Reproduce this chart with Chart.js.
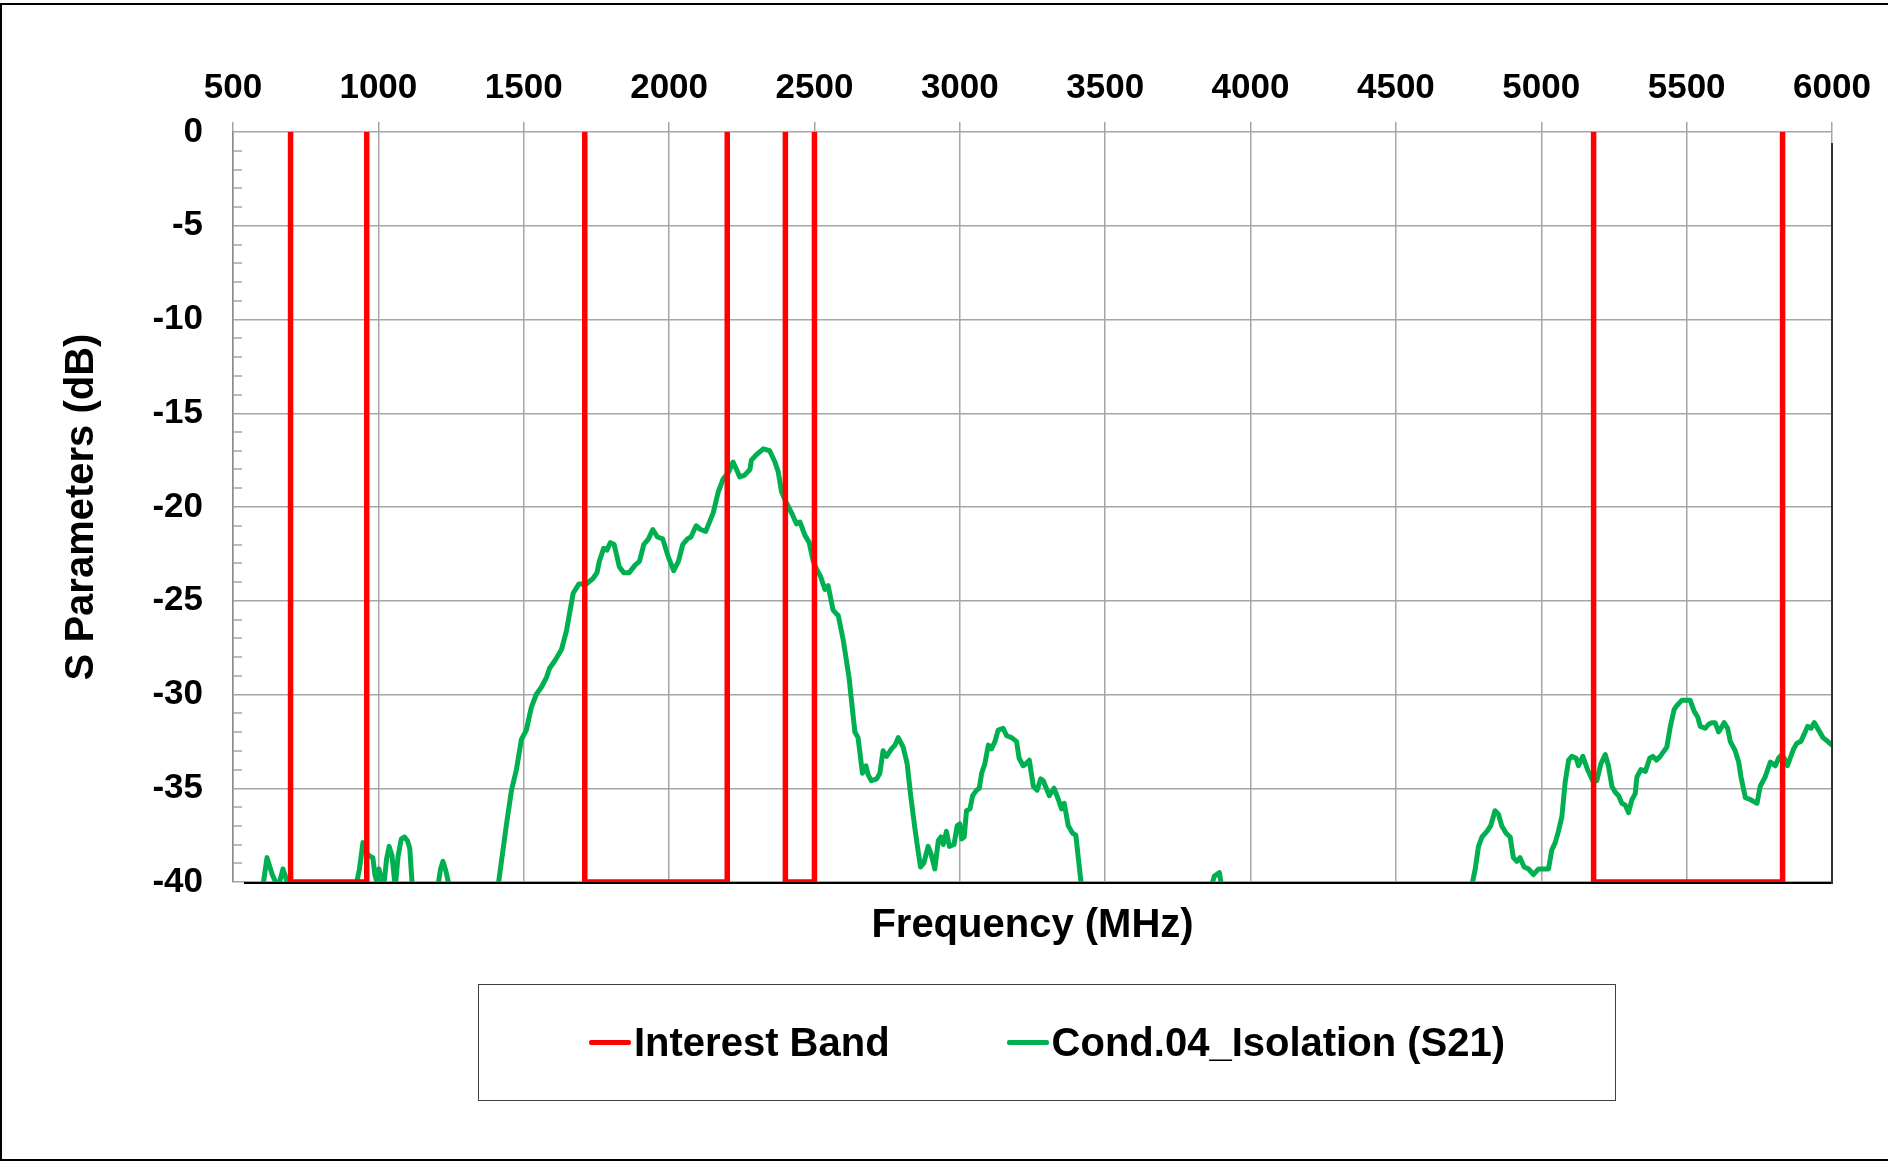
<!DOCTYPE html>
<html>
<head>
<meta charset="utf-8">
<title>Cond.04 Isolation (S21)</title>
<script src="https://cdn.jsdelivr.net/npm/chart.js@4.4.1/dist/chart.umd.min.js"></script>
<style>
  html, body { margin: 0; padding: 0; background: #fff; }
  #page { position: relative; width: 1888px; height: 1162px; overflow: hidden; }
  #frame {
    position: absolute; left: 0; top: 3px; width: 1888px; height: 1158px;
    box-sizing: border-box; border: 2px solid #000; border-right: none;
  }
  #chartWrap { position: absolute; left: 0; top: 0; width: 1888px; height: 1162px; }
  #legend {
    position: absolute; left: 478px; top: 984px; width: 1138px; height: 117px;
    box-sizing: border-box; border: 1px solid #404040;
    display: flex; align-items: center; justify-content: center; gap: 117px;
    font: bold 40px "Liberation Sans", Arial, sans-serif; color: #000;
  }
  .item { display: flex; align-items: center; white-space: nowrap; }
  .swatch { width: 42px; height: 5px; border-radius: 2px; margin-right: 3px; }
</style>
</head>
<body>
<div id="page">
  <div id="frame"></div>
  <div id="chartWrap"><canvas id="sparams"></canvas></div>
  <div id="legend"></div>
</div>
<script>
// axis ticks
const freqTicks = [500, 1000, 1500, 2000, 2500, 3000, 3500, 4000, 4500, 5000, 5500, 6000];
const dbTicks = [0, -5, -10, -15, -20, -25, -30, -35, -40];

// interest bands (MHz), pairs of low / high edge
const bandEdges = [698, 960, 1710, 2200, 2400, 2500, 5180, 5830];
const bandFloor = -40;
const bandCeil = 10;   // outside the bands the trace sits above the plot

const s21Freq = [
  500, 560, 603, 617, 635, 655, 672, 690, 710,
  800, 905, 922, 935, 947, 958, 968, 981, 988, 993, 1002, 1010, 1018, 1028, 1037, 1047, 1058,
  1068, 1079, 1090, 1100, 1108, 1117, 1130,
  1180, 1205, 1214, 1222, 1232, 1245, 1260,
  1380, 1412, 1440, 1458, 1475, 1492, 1509, 1526, 1543, 1561, 1578, 1589, 1607, 1630, 1647,
  1670, 1690, 1716, 1739, 1752, 1760, 1775, 1786, 1798, 1811, 1829, 1844, 1863, 1883, 1898,
  1913, 1929, 1944, 1960, 1978, 1998, 2016, 2032, 2047, 2063, 2075, 2093, 2108, 2126, 2152,
  2169, 2186, 2203, 2220, 2232, 2243, 2260, 2278, 2283, 2301, 2324, 2346, 2364, 2375, 2387,
  2404, 2424, 2438, 2450, 2467, 2482, 2496, 2507, 2521, 2536, 2547, 2564, 2582, 2599, 2619,
  2639, 2650, 2658, 2665, 2677, 2685, 2696, 2714, 2725, 2736, 2748, 2765, 2777, 2788, 2805,
  2819, 2831, 2846, 2857, 2865, 2876, 2891, 2901, 2914, 2926, 2935, 2943, 2954, 2964, 2980,
  2991, 3000, 3006, 3015, 3023, 3035, 3044, 3058, 3067, 3075, 3086, 3098, 3109, 3121, 3132,
  3149, 3161, 3178, 3195, 3204, 3218, 3227, 3239, 3253, 3266, 3278, 3287, 3308, 3324, 3339,
  3350, 3359, 3373, 3388, 3399, 3411, 3419, 3430,
  3850, 3866, 3875, 3893, 3901, 3915,
  4740, 4761, 4773, 4784, 4796, 4813, 4826, 4841, 4853, 4864, 4879, 4893, 4904, 4916, 4927,
  4941, 4956, 4973, 4991, 5008, 5025, 5036, 5048, 5059, 5071, 5082, 5094, 5105, 5120, 5128,
  5143, 5159, 5177, 5191, 5205, 5220, 5231, 5243, 5254, 5266, 5277, 5289, 5300, 5312, 5323,
  5329, 5343, 5358, 5373, 5384, 5396, 5409, 5432, 5444, 5457, 5466, 5484, 5501, 5512, 5526,
  5538, 5547, 5564, 5575, 5587, 5598, 5610, 5618, 5629, 5641, 5650, 5667, 5679, 5687, 5702,
  5719, 5730, 5742, 5753, 5770, 5788, 5805, 5816, 5828, 5839, 5847, 5856, 5868, 5879, 5893,
  5905, 5916, 5928, 5939, 5954, 5969, 5985, 6000
];
const s21Db = [
  -44, -42, -40.2, -38.7, -39.6, -40.3, -39.3, -40.2, -42,
  -43, -42, -40.3, -39.3, -37.9, -38.4, -38.6, -38.7, -39.6, -39.9, -39.3, -39.9, -40.3, -38.8, -38.1, -38.6, -40.3,
  -38.6, -37.7, -37.6, -37.8, -38.2, -40.3, -42,
  -42, -40.2, -39.3, -38.9, -39.4, -40.3, -42,
  -42, -40.2, -37.0, -35.1, -34.0, -32.4, -31.9, -30.7, -30.0, -29.6, -29.1, -28.6, -28.2, -27.6, -26.6,
  -24.6, -24.1, -24.1, -23.8, -23.5, -22.9, -22.2, -22.3, -21.9, -22.0, -23.2, -23.5, -23.5, -23.1, -22.9,
  -22.0, -21.7, -21.2, -21.6, -21.7, -22.7, -23.4, -22.9, -22.0, -21.7, -21.6, -21.0, -21.2, -21.3, -20.3,
  -19.2, -18.5, -18.2, -17.6, -18.0, -18.4, -18.3, -18.0, -17.5, -17.2, -16.9, -17.0, -17.6, -18.1, -19.2,
  -19.8, -20.4, -20.9, -20.8, -21.5, -21.9, -22.9, -23.3, -23.7, -24.4, -24.2, -25.5, -25.8, -27.1, -29.1,
  -32.0, -32.3, -33.3, -34.2, -33.8, -34.3, -34.6, -34.5, -34.2, -33.0, -33.3, -32.9, -32.7, -32.3, -32.8,
  -33.7, -35.4, -37.2, -38.4, -39.2, -39.0, -38.1, -38.5, -39.3, -37.8, -37.6, -38.0, -37.3, -38.1, -38.0,
  -37.0, -36.9, -37.7, -37.6, -36.2, -36.1, -35.4, -35.1, -35.0, -34.2, -33.7, -32.7, -32.9, -32.5, -31.9,
  -31.8, -32.2, -32.3, -32.5, -33.4, -33.8, -33.7, -33.5, -34.9, -35.1, -34.5, -34.6, -35.4, -35.0, -35.6,
  -36.1, -35.8, -37.0, -37.4, -37.5, -39.2, -40.3, -42,
  -42, -40.2, -39.7, -39.5, -40.3, -42,
  -42, -40.2, -39.3, -38.1, -37.6, -37.3, -37.0, -36.2, -36.4, -37.0, -37.4, -37.6, -38.7, -38.9, -38.7,
  -39.2, -39.3, -39.6, -39.3, -39.3, -39.3, -38.3, -37.9, -37.3, -36.5, -34.7, -33.5, -33.3, -33.4, -33.8,
  -33.3, -34.0, -34.6, -34.6, -33.7, -33.2, -33.8, -34.9, -35.2, -35.4, -35.8, -35.9, -36.3, -35.6, -35.3,
  -34.4, -34.0, -34.1, -33.4, -33.3, -33.5, -33.3, -32.8, -31.7, -30.8, -30.6, -30.3, -30.3, -30.3, -30.9,
  -31.2, -31.7, -31.8, -31.6, -31.5, -31.5, -32.0, -31.8, -31.5, -31.8, -32.5, -33.0, -33.6, -34.4, -35.5,
  -35.6, -35.7, -35.8, -34.9, -34.4, -33.6, -33.8, -33.4, -33.2, -33.5, -33.8, -33.4, -32.9, -32.6, -32.5,
  -32.1, -31.7, -31.8, -31.5, -31.9, -32.3, -32.5, -32.7
];

const minorStep = 1;   // small ticks on the inside of the dB axis

function bandPoints() {
  const pts = [{ x: freqTicks[0], y: bandCeil }];
  for (let i = 0; i < bandEdges.length; i += 2) {
    const lo = bandEdges[i], hi = bandEdges[i + 1];
    pts.push({ x: lo, y: bandCeil }, { x: lo, y: bandFloor },
             { x: hi, y: bandFloor }, { x: hi, y: bandCeil });
  }
  pts.push({ x: freqTicks[freqTicks.length - 1], y: bandCeil });
  return pts;
}

const minorTicks = {
  id: 'minorTicks',
  beforeDatasetsDraw(chart) {
    const { ctx, chartArea: a, scales: { y } } = chart;
    ctx.save();
    ctx.strokeStyle = '#a6a6a6';
    ctx.lineWidth = 1.5;
    ctx.beginPath();
    for (let v = y.min + minorStep; v < y.max; v += minorStep) {
      if (v % 5 === 0) continue;
      const py = Math.round(y.getPixelForValue(v));
      ctx.moveTo(a.left, py);
      ctx.lineTo(a.left + 9, py);
    }
    ctx.stroke();
    ctx.restore();
  }
};

// dark right / bottom edge of the plot
const plotFrame = {
  id: 'plotFrame',
  afterDatasetsDraw(chart) {
    const { ctx, chartArea: a } = chart;
    ctx.save();
    ctx.lineWidth = 2;
    ctx.strokeStyle = '#000';
    ctx.beginPath();
    ctx.moveTo(a.left + 11, a.bottom + 1);
    ctx.lineTo(a.right + 1, a.bottom + 1);
    ctx.stroke();
    ctx.strokeStyle = '#333';
    ctx.beginPath();
    ctx.moveTo(a.right, a.top + 11);
    ctx.lineTo(a.right, a.bottom + 2);
    ctx.stroke();
    ctx.restore();
  }
};

Chart.defaults.font.family = '"Liberation Sans", Arial, sans-serif';
Chart.defaults.color = '#000';

const boldFont = (size) => ({ size, weight: 'bold' });

const chart = new Chart(document.getElementById('sparams'), {
  type: 'line',
  data: {
    datasets: [
      {
        label: 'Interest Band',
        data: bandPoints(),
        borderColor: '#ff0000',
        borderWidth: 5.5,
        pointRadius: 0,
        tension: 0
      },
      {
        label: 'Cond.04_Isolation (S21)',
        data: s21Freq.map((f, i) => ({ x: f, y: s21Db[i] })),
        borderColor: '#00b050',
        borderWidth: 5,
        borderJoinStyle: 'round',
        borderCapStyle: 'round',
        pointRadius: 0,
        tension: 0
      }
    ]
  },
  options: {
    responsive: true,
    maintainAspectRatio: false,
    animation: false,
    layout: { padding: { left: 30, right: 56, top: 10, bottom: 190 } },
    plugins: {
      legend: { display: false },
      tooltip: { enabled: false }
    },
    scales: {
      x: {
        type: 'linear',
        position: 'top',
        min: freqTicks[0],
        max: freqTicks[freqTicks.length - 1],
        afterBuildTicks: (s) => { s.ticks = freqTicks.map(v => ({ value: v })); },
        afterFit: (s) => { s.height = 122; },
        grid: { color: '#a6a6a6', lineWidth: 1.5, tickLength: 10 },
        border: { display: false },
        ticks: {
          padding: 13, autoSkip: false, maxRotation: 0,
          font: boldFont(35), color: '#000',
          callback: (v) => String(v)
        }
      },
      x2: {
        type: 'linear',
        position: 'bottom',
        min: freqTicks[0],
        max: freqTicks[freqTicks.length - 1],
        afterFit: (s) => { s.height = 90; },
        grid: { display: false },
        border: { display: false },
        ticks: { display: false },
        title: {
          display: true,
          text: 'Frequency (MHz)',
          font: boldFont(40),
          color: '#000',
          padding: { top: 0, bottom: 22 }
        }
      },
      y: {
        min: dbTicks[dbTicks.length - 1],
        max: dbTicks[0],
        afterBuildTicks: (s) => { s.ticks = dbTicks.map(v => ({ value: v })); },
        afterFit: (s) => { s.width = 203; },
        grid: { color: '#a6a6a6', lineWidth: 1.5, drawTicks: false },
        border: { color: '#8c8c8c', width: 1.5 },
        ticks: { padding: 30, font: boldFont(35), color: '#000', callback: (v) => String(v) },
        title: {
          display: true,
          text: 'S Parameters (dB)',
          font: boldFont(40),
          color: '#000',
          padding: { top: 28, bottom: 0 }
        }
      }
    }
  },
  plugins: [minorTicks, plotFrame]
});

// legend box below the plot, built from the datasets
const legendEl = document.getElementById('legend');
chart.data.datasets.forEach(ds => {
  const item = document.createElement('div');
  item.className = 'item';
  const swatch = document.createElement('span');
  swatch.className = 'swatch';
  swatch.style.background = ds.borderColor;
  const text = document.createElement('span');
  text.textContent = ds.label;
  item.append(swatch, text);
  legendEl.append(item);
});
</script>
</body>
</html>
